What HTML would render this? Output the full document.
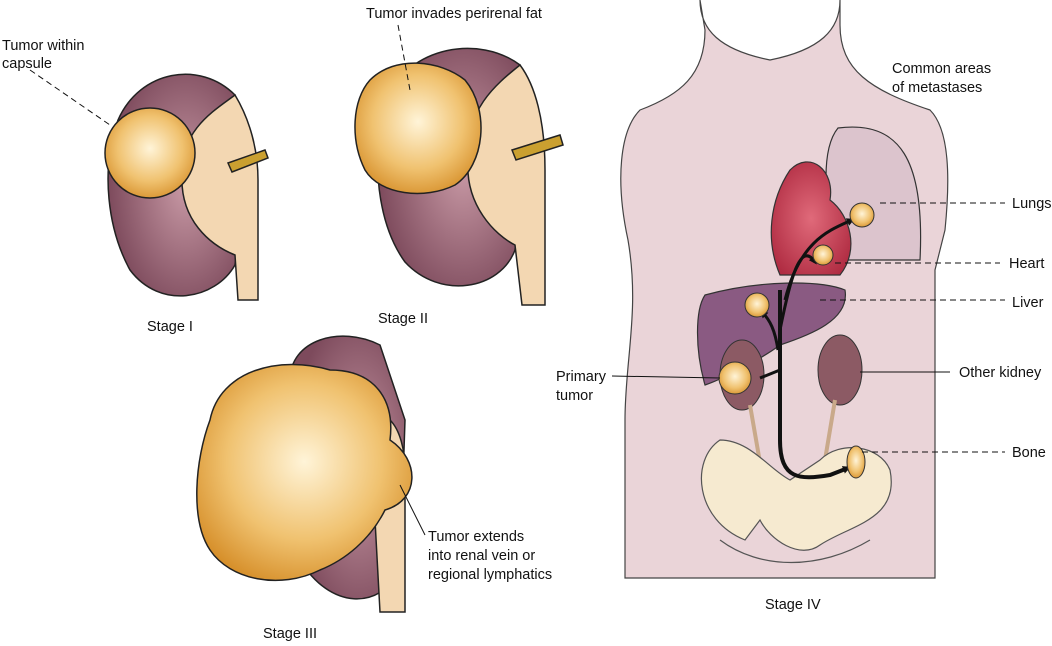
<!DOCTYPE html>
<html><head><meta charset="utf-8"><style>
html,body{margin:0;padding:0;background:#fff;}
svg{display:block;}
text{font-family:"Liberation Sans",Arial,sans-serif;font-size:14.5px;fill:#111;}
</style></head><body>
<svg width="1052" height="646" viewBox="0 0 1052 646" xmlns="http://www.w3.org/2000/svg">
<defs>
<radialGradient id="tum" cx="50%" cy="45%" r="60%"><stop offset="0" stop-color="#fff4d8"/><stop offset="0.6" stop-color="#f0c270"/><stop offset="1" stop-color="#d68f2a"/></radialGradient>
<radialGradient id="kid" cx="60%" cy="50%" r="60%"><stop offset="0" stop-color="#c99aa6"/><stop offset="1" stop-color="#7d4a5c"/></radialGradient>
<radialGradient id="heart" cx="50%" cy="50%" r="60%"><stop offset="0" stop-color="#e06a7a"/><stop offset="1" stop-color="#b02c42"/></radialGradient>
<marker id="ar" markerWidth="8" markerHeight="8" refX="5" refY="4" orient="auto" markerUnits="userSpaceOnUse"><path d="M0 0 L8 4 L0 8 Z" fill="#111"/></marker>
</defs>
<!-- Stage I kidney -->
<g stroke="#222" stroke-width="1.5">
<path d="M235 95 C200 60 140 70 118 120 C100 170 108 230 130 270 C160 310 215 300 235 265 C240 230 235 210 235 190 Z" fill="url(#kid)"/>
<path d="M235 95 C215 110 180 130 182 175 C180 220 210 245 235 255 L238 300 L258 300 L258 180 C258 150 250 120 235 95 Z" fill="#f3d7b2"/>
<path d="M228 163 L265 150 L268 158 L232 172 Z" fill="#caa030"/>
<circle cx="150" cy="153" r="45" fill="url(#tum)"/>
</g>
<!-- Stage II kidney -->
<g stroke="#222" stroke-width="1.5">
<path d="M520 65 C480 35 410 45 385 100 C370 160 378 225 405 262 C440 300 500 290 515 250 L520 200 Z" fill="url(#kid)"/>
<path d="M520 65 C495 85 465 110 468 160 C465 205 495 235 515 245 L522 305 L545 305 L545 170 C545 120 535 85 520 65 Z" fill="#f3d7b2"/>
<path d="M512 150 L560 135 L563 145 L516 160 Z" fill="#caa030"/>
<path d="M370 80 C395 55 440 60 465 80 C490 110 485 165 455 185 C425 200 380 195 365 170 C350 140 352 100 370 80 Z" fill="url(#tum)"/>
</g>
<!-- Stage III kidney -->
<g stroke="#222" stroke-width="1.5">
<path d="M380 345 C340 325 290 340 290 380 L300 560 C330 610 380 610 400 570 L405 420 Z" fill="url(#kid)"/>
<path d="M390 420 C370 440 360 480 375 520 L380 612 L405 612 L405 470 C405 450 400 430 390 420 Z" fill="#f3d7b2"/>
<path d="M210 420 C220 370 280 355 330 370 C375 370 395 400 390 440 C420 460 420 500 385 510 C370 540 345 560 320 570 C280 590 230 580 210 550 C190 520 195 460 210 420 Z" fill="url(#tum)"/>
</g>
<!-- Torso -->
<path d="M700 0 C700 30 720 50 770 60 C820 50 840 30 840 0 L840 25 C840 70 870 90 930 110 C950 130 950 180 945 230 L935 270 L935 578 L625 578 L625 420 C625 360 640 310 628 240 C615 180 620 130 640 110 C680 95 705 75 705 30 Z" fill="#ead4d8" stroke="#444" stroke-width="1.2"/>
<path d="M838 128 C900 120 925 160 920 260 L835 260 C825 200 820 150 838 128 Z" fill="#dcc4cd" stroke="#333" stroke-width="1.2"/>
<path d="M790 170 C810 150 835 170 830 200 C850 215 860 250 840 275 L780 275 C765 240 770 200 790 170 Z" fill="url(#heart)" stroke="#333" stroke-width="1.2"/>
<path d="M705 295 C760 280 820 280 845 290 C850 320 810 335 780 345 C760 360 720 380 705 385 C695 350 695 310 705 295 Z" fill="#8a5a82" stroke="#333" stroke-width="1.2"/>
<ellipse cx="742" cy="375" rx="22" ry="35" fill="#8c5a64" stroke="#333"/>
<ellipse cx="840" cy="370" rx="22" ry="35" fill="#8c5a64" stroke="#333"/>
<path d="M750 405 L770 520 M835 400 L815 520" stroke="#c9a98a" stroke-width="4"/>
<path d="M720 440 C690 460 695 520 745 540 L760 520 C770 540 800 560 820 545 C850 525 900 520 890 470 C880 445 840 440 820 460 L790 480 C770 470 750 440 720 440 Z" fill="#f6ead0" stroke="#555" stroke-width="1.2"/>
<path d="M720 540 C760 570 820 570 870 540" fill="none" stroke="#555" stroke-width="1.2"/>
<!-- aorta + arrows -->
<g fill="none" stroke="#111" stroke-width="4">
<path d="M780 290 L780 440 C780 480 800 480 830 475 L848 468" marker-end="url(#ar)"/>
<path d="M780 330 C790 280 800 240 815 262" marker-end="url(#ar)" stroke-width="3"/>
<path d="M785 300 C800 240 830 230 852 220" marker-end="url(#ar)" stroke-width="3"/>
<path d="M778 350 C775 330 770 320 762 312" marker-end="url(#ar)" stroke-width="3"/>
<path d="M760 378 L780 370" stroke-width="3"/>
</g>
<circle cx="862" cy="215" r="12" fill="url(#tum)" stroke="#333"/>
<circle cx="823" cy="255" r="10" fill="url(#tum)" stroke="#333"/>
<circle cx="757" cy="305" r="12" fill="url(#tum)" stroke="#333"/>
<circle cx="735" cy="378" r="16" fill="url(#tum)" stroke="#333"/>
<ellipse cx="856" cy="462" rx="9" ry="16" fill="url(#tum)" stroke="#333"/>
<g stroke="#111" stroke-width="1" stroke-dasharray="6,4" fill="none">
<path d="M30 70 L110 125"/>
<path d="M398 25 L410 90"/>
<path d="M880 203 L1005 203"/>
<path d="M835 263 L1000 263"/>
<path d="M820 300 L1005 300"/>
<path d="M862 452 L1005 452"/>
</g>
<g stroke="#111" stroke-width="1">
<path d="M612 376 L720 378"/>
<path d="M860 372 L950 372"/>
<path d="M400 485 L425 535"/>
</g>
<text x="2" y="50">Tumor within</text>
<text x="2" y="68">capsule</text>
<text x="147" y="331">Stage I</text>
<text x="366" y="18">Tumor invades perirenal fat</text>
<text x="378" y="323">Stage II</text>
<text x="263" y="638">Stage III</text>
<text x="428" y="541">Tumor extends</text>
<text x="428" y="560">into renal vein or</text>
<text x="428" y="579">regional lymphatics</text>
<text x="892" y="73">Common areas</text>
<text x="892" y="92">of metastases</text>
<text x="1012" y="208">Lungs</text>
<text x="1009" y="268">Heart</text>
<text x="1012" y="307">Liver</text>
<text x="959" y="377">Other kidney</text>
<text x="556" y="381">Primary</text>
<text x="556" y="400">tumor</text>
<text x="1012" y="457">Bone</text>
<text x="765" y="609">Stage IV</text>
</svg>
</body></html>
